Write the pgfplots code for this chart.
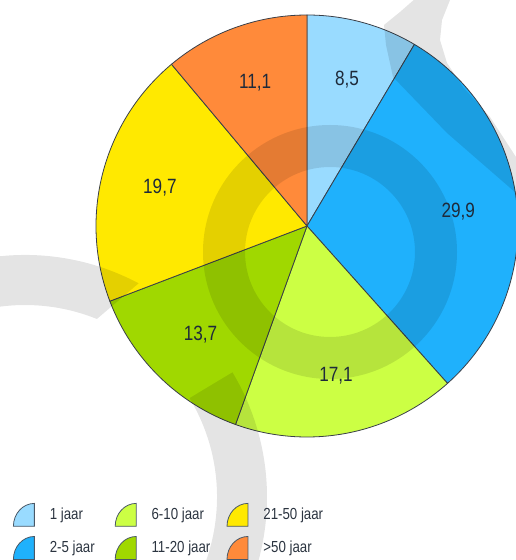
\documentclass[border=0pt]{standalone}
\usepackage{fontspec}
\setmainfont{Liberation Sans}[FakeStretch=0.83]
\usepackage{pgfplots}
\usepackage{pgfplotstable}
\pgfplotsset{compat=1.18}
\usetikzlibrary{calc}

\definecolor{c1}{HTML}{99DBFF}
\definecolor{c2}{HTML}{1FB1FC}
\definecolor{c3}{HTML}{CCFF44}
\definecolor{c4}{HTML}{A0D800}
\definecolor{c5}{HTML}{FFE900}
\definecolor{c6}{HTML}{FF8A3A}
\definecolor{pieline}{HTML}{3A3F48}
\definecolor{labtext}{HTML}{1E2A3A}
\definecolor{legtext}{HTML}{2B3440}
\definecolor{iconline}{HTML}{4A5866}

% share per age class (percent), clockwise from the top
\pgfplotstableread{
value color
8.5  c1
29.9 c2
17.1 c3
13.7 c4
19.7 c5
11.1 c6
}\piedata
\pgfplotstablecreatecol[create col/expr accum={\pgfmathaccuma + \thisrow{value}}{0}]{cum}{\piedata}

\begin{document}
\begin{tikzpicture}
\begin{axis}[
  at={(0,0)}, anchor=south west,
  scale only axis, width=387pt, height=420pt,
  xmin=0, xmax=516, ymin=0, ymax=560,
  hide axis, clip=false,
  legend columns=3,
  legend cell align=left,
  legend style={at={(axis cs:13,57)}, anchor=north west, draw=none, fill=none,
    inner sep=0pt, outer sep=0pt, row sep=7pt,
    font=\fontsize{12}{14}\selectfont, text=legtext,
    nodes={inner sep=0pt, outer sep=0pt},
    /tikz/every odd column/.style={column sep=11.25pt},
    /tikz/every even column/.style={column sep=0pt}},
  legend image code/.code={\filldraw[#1, draw=iconline, line width=0.6pt]
    (15.75pt,-8.6pt) -- (15.75pt,8.6pt) arc[start angle=90, end angle=180, x radius=15.75pt, y radius=17.2pt] -- cycle;},
]
% pie wedges from the table
\pgfplotsextra{
  \pgfplotstablegetrowsof{\piedata}
  \pgfmathtruncatemacro{\nrows}{\pgfplotsretval-1}
  \foreach \i in {0,...,\nrows}{
    \pgfplotstablegetelem{\i}{value}\of{\piedata}\let\v\pgfplotsretval
    \pgfplotstablegetelem{\i}{cum}\of{\piedata}\let\cu\pgfplotsretval
    \pgfplotstablegetelem{\i}{color}\of{\piedata}\let\col\pgfplotsretval
    \pgfmathsetmacro{\sa}{90-3.6*(\cu-\v)}
    \pgfmathsetmacro{\ea}{90-3.6*\cu}
    \filldraw[fill=\col, draw=pieline, line width=0.6pt, line join=round]
      (axis cs:307,334) -- ($(axis cs:307,334)+(\sa:158.25pt)$)
      arc[start angle=\sa, end angle=\ea, radius=158.25pt] -- cycle;
  }
  % translucent background logo (watermark)
  \fill[black, opacity=0.105, even odd rule]
    (axis cs:330,308) circle[radius=95.25pt] (axis cs:330,308) circle[radius=63.75pt];
  \fill[black, opacity=0.105]
    ($(axis cs:25,63)+(62:181.5pt)$) arc[start angle=62, end angle=391, radius=181.5pt]
    -- ($(axis cs:25,63)+(391:144pt)$) arc[start angle=391, end angle=68, radius=144pt] -- cycle;
  \fill[black, opacity=0.105]
    (axis cs:416,562) -- (axis cs:400,548) -- (axis cs:384,535) -- (axis cs:386,515)
    -- (axis cs:393,483) -- (axis cs:420,455) -- (axis cs:447,427) -- (axis cs:516,367)
    -- (axis cs:525,358) -- (axis cs:525,410) -- (axis cs:516,403) -- (axis cs:490,443)
    -- (axis cs:463,473) -- (axis cs:447,497) -- (axis cs:440,520) -- (axis cs:442,540)
    -- (axis cs:450,560) -- (axis cs:452,565) -- cycle;
}
% value labels at the middle of each wedge
\addplot[forget plot, only marks, mark=*, mark size=0pt, mark options={draw=none, fill=none},
  point meta=explicit, nodes near coords,
  nodes near coords style={anchor=center, text=labtext, font=\fontsize{15.5}{18}\selectfont},
  /pgf/number format/.cd, use comma, fixed, fixed zerofill, precision=1, assume math mode=true]
  table[x expr={307+152*cos(90-3.6*(\thisrow{cum}-0.5*\thisrow{value}))},
        y expr={334+152*sin(90-3.6*(\thisrow{cum}-0.5*\thisrow{value}))},
        meta=value] {\piedata};

\addlegendimage{fill=c1}\addlegendentry{\makebox[48.75pt][l]{1 jaar}}
\addlegendimage{fill=c3}\addlegendentry{\makebox[56.25pt][l]{6-10 jaar}}
\addlegendimage{fill=c5}\addlegendentry{21-50 jaar}
\addlegendimage{fill=c2}\addlegendentry{\makebox[48.75pt][l]{2-5 jaar}}
\addlegendimage{fill=c4}\addlegendentry{\makebox[56.25pt][l]{11-20 jaar}}
\addlegendimage{fill=c6}\addlegendentry{>50 jaar}
\end{axis}
\pgfresetboundingbox
\useasboundingbox (0,0) rectangle (387pt,420pt);
\end{tikzpicture}
\end{document}
